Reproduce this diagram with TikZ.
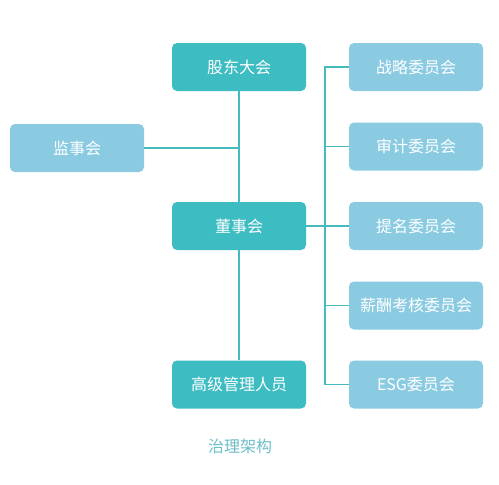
\documentclass[tikz,border=0pt]{standalone}
\usepackage{fontspec}
\newfontfamily\cjk{Noto Sans CJK SC}
\definecolor{darkteal}{HTML}{3DBCC2}
\definecolor{lightblue}{HTML}{8ACBE2}
\definecolor{linecol}{HTML}{45BABF}
\definecolor{captioncol}{HTML}{6DBFC8}
\begin{document}
\begin{tikzpicture}[x=1pt,y=-1pt,
  box/.style={rounded corners=5pt, minimum width=134pt, minimum height=48pt, inner sep=0pt, text=white, font=\cjk\fontsize{16}{18}\selectfont},
  mainbox/.style={box, fill=darkteal},
  subbox/.style={box, fill=lightblue},
  conn/.style={draw=linecol, line width=1.6pt}]
\useasboundingbox (0,0) rectangle (499,485);
\fill[white] (0,0) rectangle (499,485);
\node[mainbox] (gd) at (239,67) {股东大会};
\node[subbox] (js) at (77,148) {监事会};
\node[mainbox] (ds) at (239,226) {董事会};
\node[mainbox] (gg) at (239,384.5) {高级管理人员};
\node[subbox] (zl) at (416,67) {战略委员会};
\node[subbox] (sj) at (416,146.5) {审计委员会};
\node[subbox] (tm) at (416,226) {提名委员会};
\node[subbox] (xc) at (416,305.5) {薪酬考核委员会};
\node[subbox] (esg) at (416,384.5) {ESG委员会};
\node[font=\cjk\fontsize{16}{18}\selectfont, text=captioncol] (cap) at (240,446) {治理架构};
\coordinate (jj) at (gd.south |- js.east);
\coordinate (bus) at (325,0);
\draw[conn] (gd.south) -- (ds.north);
\draw[conn] (ds.south) -- (gg.north);
\draw[conn] (js.east) -- (jj);
\draw[conn] (ds.east) -- (bus |- ds.east);
\draw[conn] (zl.west) -- (bus |- zl.west) -- (bus |- esg.west) -- (esg.west);
\draw[conn] (sj.west) -- (bus |- sj.west);
\draw[conn] (tm.west) -- (bus |- tm.west);
\draw[conn] (xc.west) -- (bus |- xc.west);
\end{tikzpicture}
\end{document}
